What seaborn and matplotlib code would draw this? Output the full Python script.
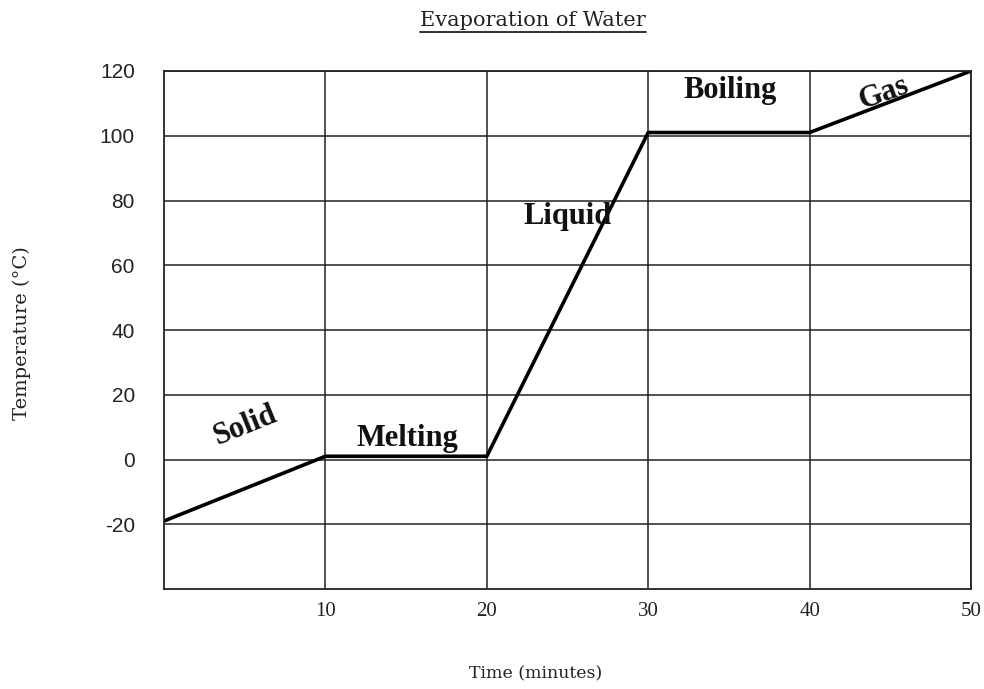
import pandas as pd
import seaborn as sns
import matplotlib.pyplot as plt
from matplotlib.lines import Line2D

# data
time_min = [0, 10, 20, 30, 40, 50]
temp_c = [-19, 1, 1, 101, 101, 120]

phase_names = ["Solid", "Melting", "Liquid", "Boiling", "Gas"]
phase_x = [5.0, 15.1, 25.0, 35.1, 44.6]
phase_y = [10.5, 6.5, 75.0, 114.0, 113.0]
phase_rot = [22, 0, 0, 0, 20]

x_ticks = [10, 20, 30, 40, 50]
y_ticks = [-20, 0, 20, 40, 60, 80, 100, 120]

df = pd.DataFrame({"Time": time_min, "Temp": temp_c})

sns.set_style("white")
plt.rcParams["font.family"] = ["Liberation Serif", "DejaVu Serif"]
plt.rcParams["axes.unicode_minus"] = False

fig = plt.figure(figsize=(9.84, 6.89), dpi=100)
ax = fig.add_axes([164 / 984, 1 - 589 / 689, 807 / 984, 518 / 689])

sns.lineplot(data=df, x="Time", y="Temp", ax=ax, color="black", linewidth=2.6)

ax.set_xlim(0, 50)
ax.set_ylim(-40, 120)
ax.set_xticks(x_ticks)
ax.set_yticks(y_ticks)
ax.tick_params(length=0, colors="#222222")
ax.tick_params(axis="y", pad=21, labelsize=15)
ax.tick_params(axis="x", pad=9, labelsize=15)
for lab in ax.get_yticklabels():
    lab.set_family(["Liberation Sans", "DejaVu Sans"])
ax.grid(True, color="#222222", linewidth=1.1)
for s in ax.spines.values():
    s.set_color("#222222")
    s.set_linewidth(1.3)

ax.set_xlabel("")
ax.set_ylabel("")
fig.text(22 / 984, 1 - 333 / 689, "Temperature (°C)", rotation=90,
         ha="center", va="center", fontsize=14, color="#222222",
         family=["DejaVu Serif"])
fig.text(536 / 984, 1 - 674 / 689, "Time (minutes)",
         ha="center", va="center", fontsize=12.5, color="#222222",
         family=["DejaVu Serif"])

title = fig.text(533 / 984, 1 - 21 / 689, "Evaporation of Water",
                 ha="center", va="center", fontsize=15, color="#222222",
                 family=["DejaVu Serif"])

for name, x, y, r in zip(phase_names, phase_x, phase_y, phase_rot):
    ax.text(x, y, name, ha="center", va="center", rotation=r,
            fontsize=22, fontweight="bold", color="#111111")

# underline the title
fig.canvas.draw()
bb = title.get_window_extent().transformed(fig.transFigure.inverted())
fig.add_artist(Line2D([bb.x0, bb.x1], [bb.y0 - 0.002, bb.y0 - 0.002],
                      transform=fig.transFigure, color="#222222", linewidth=1.3))

fig.savefig("out.png", dpi=100)
